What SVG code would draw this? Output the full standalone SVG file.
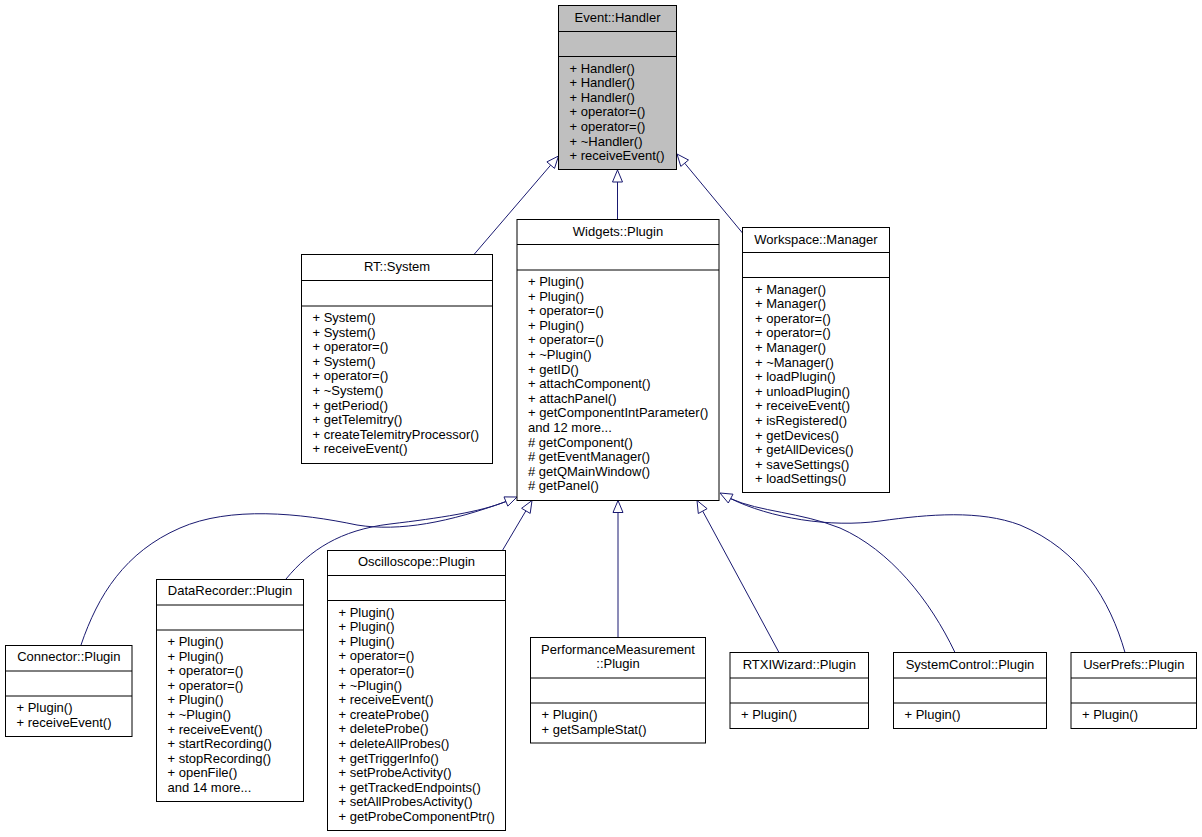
<svg xmlns="http://www.w3.org/2000/svg" width="1202" height="837" viewBox="0 0 1202 837">
<style>
text{font-family:"Liberation Sans",Arial,sans-serif;font-size:13px;fill:#000}
.t{text-anchor:middle}
.box{fill:#fff;stroke:#000;stroke-width:1}
.root{fill:#bfbfbf;stroke:#000;stroke-width:1}
.sep{stroke:#000;stroke-width:1}
.edge{fill:none;stroke:#191970;stroke-width:1}
.arr{fill:#fff;stroke:#191970;stroke-width:1}
</style>
<rect width="1202" height="837" fill="#fff"/>
<g id="connectors">
<path class="edge" d="M474,254.5 L550.7,165.1"/>
<polygon class="arr" points="558.5,156 554.5,168.4 546.9,161.9"/>
<path class="edge" d="M617.5,219.5 L617.5,182"/>
<polygon class="arr" points="617.5,170 622.5,182 612.5,182"/>
<path class="edge" d="M742.5,233 L684.7,163.2"/>
<polygon class="arr" points="677,154 688.5,160 680.8,166.4"/>
<path class="edge" d="M81,645 C98,595 125,552 180,528 C230,506 300,513 357,525 C400,532 450,522 506,501.5"/>
<path class="edge" d="M286,579 C310,550 340,530 390,524 C440,518 480,512 506,501.5"/>
<polygon class="arr" points="517,497 507.8,506.1 504,496.9"/>
<path class="edge" d="M502.7,550 L525.9,510.8"/>
<polygon class="arr" points="532,500.5 530.2,513.4 521.6,508.3"/>
<path class="edge" d="M618,637.5 L618,512.5"/>
<polygon class="arr" points="618,500.5 623,512.5 613,512.5"/>
<path class="edge" d="M779,652.5 L702.7,511.1"/>
<polygon class="arr" points="697,500.5 707.1,508.7 698.3,513.5"/>
<path class="edge" d="M955,652.5 C930,600 890,550 840,528 C800,512 760,512 730.6,498.6"/>
<path class="edge" d="M1125,652.5 C1110,600 1080,550 1020,525 C980,510 930,514 880,521 C830,528 770,518 730.6,498.6"/>
<polygon class="arr" points="720,493 733,494.2 728.3,503"/>
</g>
<g id="event_handler">
<rect class="root" x="558.5" y="5.5" width="118" height="164"/>
<line class="sep" x1="558.5" y1="31.5" x2="676.5" y2="31.5"/>
<line class="sep" x1="558.5" y1="56.5" x2="676.5" y2="56.5"/>
<text class="t" x="617.5" y="21.5">Event::Handler</text>
<text x="569.5" y="72.5">+ Handler()</text>
<text x="569.5" y="87.1">+ Handler()</text>
<text x="569.5" y="101.7">+ Handler()</text>
<text x="569.5" y="116.3">+ operator=()</text>
<text x="569.5" y="130.9">+ operator=()</text>
<text x="569.5" y="145.5">+ ~Handler()</text>
<text x="569.5" y="160.1">+ receiveEvent()</text>
</g>
<g id="rt_system">
<rect class="box" x="301.5" y="254.5" width="191" height="209"/>
<line class="sep" x1="301.5" y1="280.5" x2="492.5" y2="280.5"/>
<line class="sep" x1="301.5" y1="306" x2="492.5" y2="306"/>
<text class="t" x="397" y="270.5">RT::System</text>
<text x="312.5" y="322">+ System()</text>
<text x="312.5" y="336.6">+ System()</text>
<text x="312.5" y="351.2">+ operator=()</text>
<text x="312.5" y="365.8">+ System()</text>
<text x="312.5" y="380.4">+ operator=()</text>
<text x="312.5" y="395">+ ~System()</text>
<text x="312.5" y="409.6">+ getPeriod()</text>
<text x="312.5" y="424.2">+ getTelemitry()</text>
<text x="312.5" y="438.8">+ createTelemitryProcessor()</text>
<text x="312.5" y="453.4">+ receiveEvent()</text>
</g>
<g id="widgets_plugin">
<rect class="box" x="517" y="219.5" width="202" height="281"/>
<line class="sep" x1="517" y1="244.5" x2="719" y2="244.5"/>
<line class="sep" x1="517" y1="270" x2="719" y2="270"/>
<text class="t" x="618" y="235.5">Widgets::Plugin</text>
<text x="528" y="286">+ Plugin()</text>
<text x="528" y="300.6">+ Plugin()</text>
<text x="528" y="315.2">+ operator=()</text>
<text x="528" y="329.8">+ Plugin()</text>
<text x="528" y="344.4">+ operator=()</text>
<text x="528" y="359">+ ~Plugin()</text>
<text x="528" y="373.6">+ getID()</text>
<text x="528" y="388.2">+ attachComponent()</text>
<text x="528" y="402.8">+ attachPanel()</text>
<text x="528" y="417.4">+ getComponentIntParameter()</text>
<text x="528" y="432">and 12 more...</text>
<text x="528" y="446.6"># getComponent()</text>
<text x="528" y="461.2"># getEventManager()</text>
<text x="528" y="475.8"># getQMainWindow()</text>
<text x="528" y="490.4"># getPanel()</text>
</g>
<g id="workspace_manager">
<rect class="box" x="742.5" y="227.5" width="147" height="265"/>
<line class="sep" x1="742.5" y1="252.5" x2="889.5" y2="252.5"/>
<line class="sep" x1="742.5" y1="277.5" x2="889.5" y2="277.5"/>
<text class="t" x="816" y="243.5">Workspace::Manager</text>
<text x="755" y="293.5">+ Manager()</text>
<text x="755" y="308.1">+ Manager()</text>
<text x="755" y="322.7">+ operator=()</text>
<text x="755" y="337.3">+ operator=()</text>
<text x="755" y="351.9">+ Manager()</text>
<text x="755" y="366.5">+ ~Manager()</text>
<text x="755" y="381.1">+ loadPlugin()</text>
<text x="755" y="395.7">+ unloadPlugin()</text>
<text x="755" y="410.3">+ receiveEvent()</text>
<text x="755" y="424.9">+ isRegistered()</text>
<text x="755" y="439.5">+ getDevices()</text>
<text x="755" y="454.1">+ getAllDevices()</text>
<text x="755" y="468.7">+ saveSettings()</text>
<text x="755" y="483.3">+ loadSettings()</text>
</g>
<g id="connector_plugin">
<rect class="box" x="5.5" y="645.5" width="126.5" height="91"/>
<line class="sep" x1="5.5" y1="671" x2="132" y2="671"/>
<line class="sep" x1="5.5" y1="696" x2="132" y2="696"/>
<text class="t" x="68.8" y="661">Connector::Plugin</text>
<text x="16.5" y="712">+ Plugin()</text>
<text x="16.5" y="726.6">+ receiveEvent()</text>
</g>
<g id="datarecorder_plugin">
<rect class="box" x="156.5" y="579.5" width="147" height="222"/>
<line class="sep" x1="156.5" y1="605" x2="303.5" y2="605"/>
<line class="sep" x1="156.5" y1="630" x2="303.5" y2="630"/>
<text class="t" x="230" y="595">DataRecorder::Plugin</text>
<text x="167.5" y="646">+ Plugin()</text>
<text x="167.5" y="660.6">+ Plugin()</text>
<text x="167.5" y="675.2">+ operator=()</text>
<text x="167.5" y="689.8">+ operator=()</text>
<text x="167.5" y="704.4">+ Plugin()</text>
<text x="167.5" y="719">+ ~Plugin()</text>
<text x="167.5" y="733.6">+ receiveEvent()</text>
<text x="167.5" y="748.2">+ startRecording()</text>
<text x="167.5" y="762.8">+ stopRecording()</text>
<text x="167.5" y="777.4">+ openFile()</text>
<text x="167.5" y="792">and 14 more...</text>
</g>
<g id="oscilloscope_plugin">
<rect class="box" x="327.5" y="550.5" width="178" height="280"/>
<line class="sep" x1="327.5" y1="575.5" x2="505.5" y2="575.5"/>
<line class="sep" x1="327.5" y1="600.5" x2="505.5" y2="600.5"/>
<text class="t" x="416.5" y="566">Oscilloscope::Plugin</text>
<text x="338.5" y="616.5">+ Plugin()</text>
<text x="338.5" y="631.1">+ Plugin()</text>
<text x="338.5" y="645.7">+ Plugin()</text>
<text x="338.5" y="660.3">+ operator=()</text>
<text x="338.5" y="674.9">+ operator=()</text>
<text x="338.5" y="689.5">+ ~Plugin()</text>
<text x="338.5" y="704.1">+ receiveEvent()</text>
<text x="338.5" y="718.7">+ createProbe()</text>
<text x="338.5" y="733.3">+ deleteProbe()</text>
<text x="338.5" y="747.9">+ deleteAllProbes()</text>
<text x="338.5" y="762.5">+ getTriggerInfo()</text>
<text x="338.5" y="777.1">+ setProbeActivity()</text>
<text x="338.5" y="791.7">+ getTrackedEndpoints()</text>
<text x="338.5" y="806.3">+ setAllProbesActivity()</text>
<text x="338.5" y="820.9">+ getProbeComponentPtr()</text>
</g>
<g id="performancemeasurement_plugin">
<rect class="box" x="530.5" y="637.5" width="175" height="105.5"/>
<line class="sep" x1="530.5" y1="678" x2="705.5" y2="678"/>
<line class="sep" x1="530.5" y1="703" x2="705.5" y2="703"/>
<text class="t" x="618" y="653.8">PerformanceMeasurement</text>
<text class="t" x="618" y="668.4">::Plugin</text>
<text x="541.5" y="719">+ Plugin()</text>
<text x="541.5" y="733.6">+ getSampleStat()</text>
</g>
<g id="rtxiwizard_plugin">
<rect class="box" x="730" y="652.5" width="138.5" height="76"/>
<line class="sep" x1="730" y1="678" x2="868.5" y2="678"/>
<line class="sep" x1="730" y1="703" x2="868.5" y2="703"/>
<text class="t" x="799.3" y="668.5">RTXIWizard::Plugin</text>
<text x="741" y="719">+ Plugin()</text>
</g>
<g id="systemcontrol_plugin">
<rect class="box" x="893.5" y="652.5" width="153" height="76"/>
<line class="sep" x1="893.5" y1="678" x2="1046.5" y2="678"/>
<line class="sep" x1="893.5" y1="703" x2="1046.5" y2="703"/>
<text class="t" x="970" y="668.5">SystemControl::Plugin</text>
<text x="904.5" y="719">+ Plugin()</text>
</g>
<g id="userprefs_plugin">
<rect class="box" x="1071" y="652.5" width="125.5" height="76"/>
<line class="sep" x1="1071" y1="678" x2="1196.5" y2="678"/>
<line class="sep" x1="1071" y1="703" x2="1196.5" y2="703"/>
<text class="t" x="1133.8" y="668.5">UserPrefs::Plugin</text>
<text x="1082" y="719">+ Plugin()</text>
</g>
</svg>
